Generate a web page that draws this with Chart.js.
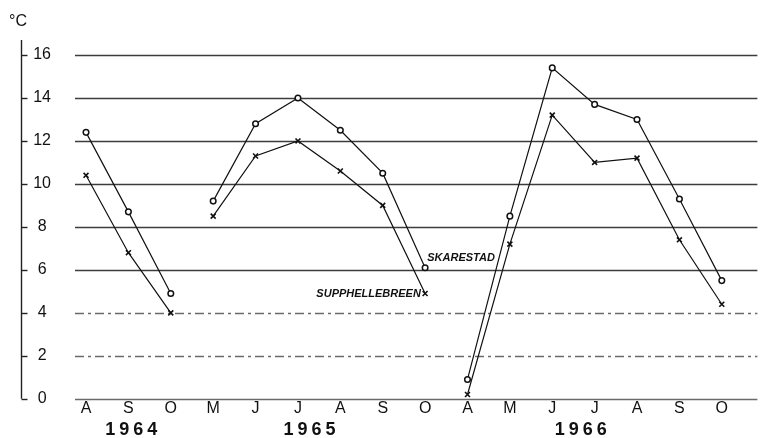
<!DOCTYPE html>
<html>
<head>
<meta charset="utf-8">
<script src="https://cdn.jsdelivr.net/npm/chart.js@4/dist/chart.umd.min.js"></script>
<style>
  html, body { margin: 0; padding: 0; background: #fff; }
</style>
</head>
<body>
<canvas id="tempChart" width="763" height="438"></canvas>
<script>
// monthly mean temperatures
const months = ['A', 'S', 'O', 'M', 'J', 'J', 'A', 'S', 'O', 'A', 'M', 'J', 'J', 'A', 'S', 'O'];
const monthYear = [1964, 1964, 1964, 1965, 1965, 1965, 1965, 1965, 1965, 1966, 1966, 1966, 1966, 1966, 1966, 1966];
const years = ['1964', '1965', '1966'];
const skarestad = [12.4, 8.7, 4.9, 9.2, 12.8, 14.0, 12.5, 10.5, 6.1, 0.9, 8.5, 15.4, 13.7, 13.0, 9.3, 5.5];
const supphellebreen = [10.4, 6.8, 4.0, 8.5, 11.3, 12.0, 10.6, 9.0, 4.9, 0.2, 7.2, 13.2, 11.0, 11.2, 7.4, 4.4];
const yTicks = [0, 2, 4, 6, 8, 10, 12, 14, 16];

Chart.defaults.font.family = '"Liberation Sans", Arial, sans-serif';
Chart.defaults.color = '#111';

// no line between the last month of one year and the first of the next
function yearBreak(ctx) {
  return monthYear[ctx.p0DataIndex] !== monthYear[ctx.p1DataIndex] ? 'rgba(0,0,0,0)' : undefined;
}

const decor = {
  id: 'decor',
  beforeDatasetsDraw(chart) {
    const { ctx, chartArea, scales: { y } } = chart;
    ctx.save();
    yTicks.forEach(v => {
      const py = Math.round(y.getPixelForValue(v)) + 0.5;
      ctx.strokeStyle = v <= 4 ? '#6a6a6a' : '#3c3c3c';
      ctx.lineWidth = 1.3;
      ctx.setLineDash(v === 2 || v === 4 ? [9, 4, 3, 4] : []);
      ctx.beginPath();
      ctx.moveTo(chartArea.left, py);
      ctx.lineTo(chartArea.right, py);
      ctx.stroke();
    });
    ctx.restore();
  },
  afterDraw(chart) {
    const { ctx, scales: { x, y } } = chart;
    ctx.save();

    // detached y axis with short ticks
    const ax = 21.5;
    ctx.strokeStyle = '#222';
    ctx.lineWidth = 1.4;
    ctx.beginPath();
    ctx.moveTo(ax, y.getPixelForValue(16.7));
    ctx.lineTo(ax, y.getPixelForValue(0));
    ctx.stroke();
    yTicks.forEach(v => {
      const py = Math.round(y.getPixelForValue(v)) + 0.5;
      ctx.beginPath();
      ctx.moveTo(ax, py);
      ctx.lineTo(ax + 6, py);
      ctx.stroke();
    });

    ctx.fillStyle = '#111';
    ctx.font = '16px "Liberation Sans", Arial, sans-serif';
    ctx.textAlign = 'left';
    ctx.textBaseline = 'middle';
    ctx.fillText('°C', 9, 22);

    // series names next to the lines
    ctx.font = 'italic bold 11px "Liberation Sans", Arial, sans-serif';
    ctx.fillText(chart.data.datasets[0].label, x.getPixelForValue(8.05), y.getPixelForValue(6.55));
    ctx.textAlign = 'right';
    ctx.fillText(chart.data.datasets[1].label, x.getPixelForValue(7.9), y.getPixelForValue(4.88));

    // year labels, spaced digits
    ctx.font = 'bold 18px "Liberation Sans", Arial, sans-serif';
    ctx.textAlign = 'center';
    const yearPos = [1.07, 5.27, 11.67];
    years.forEach((yr, k) => {
      const cx = x.getPixelForValue(yearPos[k]);
      yr.split('').forEach((ch, i) => {
        ctx.fillText(ch, cx + (i - 1.5) * 14, 430);
      });
    });
    ctx.restore();
  }
};

const ctx = document.getElementById('tempChart').getContext('2d');
new Chart(ctx, {
  type: 'line',
  data: {
    datasets: [{
      label: 'SKARESTAD',
      data: skarestad.map((v, i) => ({ x: i, y: v })),
      borderColor: '#111',
      borderWidth: 1.2,
      pointStyle: 'circle',
      pointRadius: 2.8,
      pointBackgroundColor: '#fff',
      pointBorderColor: '#111',
      pointBorderWidth: 1.5,
      segment: { borderColor: yearBreak }
    }, {
      label: 'SUPPHELLEBREEN',
      data: supphellebreen.map((v, i) => ({ x: i, y: v })),
      borderColor: '#111',
      borderWidth: 1.2,
      pointStyle: 'crossRot',
      pointRadius: 3.5,
      pointBorderColor: '#111',
      pointBorderWidth: 1.6,
      segment: { borderColor: yearBreak }
    }]
  },
  options: {
    responsive: false,
    animation: false,
    layout: { padding: { top: 55, bottom: 20, left: 0, right: 0 } },
    plugins: {
      legend: { display: false },
      tooltip: { enabled: false }
    },
    scales: {
      x: {
        type: 'linear',
        min: -0.26,
        max: 15.84,
        grid: { display: false, drawTicks: false },
        border: { display: false },
        afterBuildTicks: s => { s.ticks = months.map((m, i) => ({ value: i })); },
        ticks: {
          autoSkip: false,
          maxRotation: 0,
          padding: 0,
          font: { size: 16 },
          callback: v => months[v] ?? ''
        }
      },
      y: {
        min: 0,
        max: 16,
        grid: { display: false, drawTicks: false },
        border: { display: false },
        afterFit: s => { s.width = 75; },
        ticks: {
          stepSize: 2,
          padding: 24,
          crossAlign: 'center',
          font: { size: 16 }
        }
      }
    }
  },
  plugins: [decor]
});
</script>
</body>
</html>
